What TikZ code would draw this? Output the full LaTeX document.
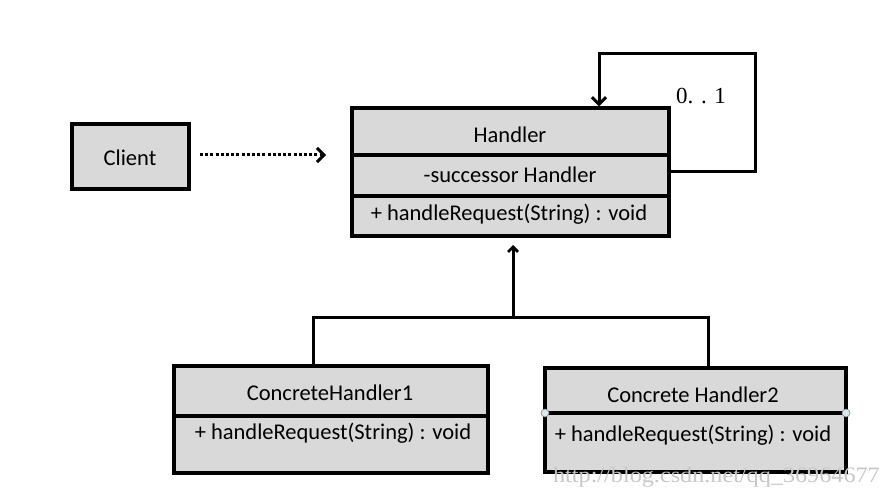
\documentclass[tikz,border=0pt]{standalone}
\usepackage{fontspec}
\setmainfont{Carlito}
\newfontfamily\serifnum{Liberation Serif}
\usetikzlibrary{arrows.meta}
\definecolor{boxgray}{HTML}{D9D9D9}
\definecolor{handle}{HTML}{D6E8F0}
\tikzset{
  umlbox/.style={draw=black, line width=3.4pt, fill=boxgray},
  divider/.style={draw=black, line width=3.4pt},
  lbl/.style={inner sep=0pt, font=\fontsize{22.5}{26}\selectfont},
  conn/.style={draw=black, line width=3pt},
  barb/.style={-{Straight Barb[length=7pt,width=14pt,line width=3pt]}},
}
\begin{document}
\begin{tikzpicture}[x=1pt,y=-1pt]
\useasboundingbox (0,0) rectangle (891,497);
% Client
\node[umlbox, minimum width=117pt, minimum height=65pt] (client) at (130.5,156.5) {};
\node[lbl] (clientt) at (130,158) {Client};
% Handler
\node[umlbox, minimum width=317pt, minimum height=128pt] (handler) at (510.5,172) {};
\coordinate (hd1l) at (352,155); \coordinate (hd1r) at (669,155);
\coordinate (hd2l) at (352,196); \coordinate (hd2r) at (669,196);
\draw[divider] (hd1l) -- (hd1r);
\draw[divider] (hd2l) -- (hd2r);
\node[lbl] (ht) at (510,135) {Handler};
\node[lbl] (ha) at (510,175) {-successor Handler};
\node[lbl] (hm) at (509,214) {+ handleRequest(String) : void};
% ConcreteHandler1
\node[umlbox, minimum width=314pt, minimum height=107pt] (ch1) at (331,419.5) {};
\coordinate (c1l) at (174,416); \coordinate (c1r) at (488,416);
\draw[divider] (c1l) -- (c1r);
\node[lbl] (c1t) at (330,393) {ConcreteHandler1};
\node[lbl] (c1m) at (333,433) {+ handleRequest(String) : void};
% ConcreteHandler2
\node[umlbox, minimum width=301pt, minimum height=104pt] (ch2) at (695.5,420) {};
\coordinate (c2l) at (545,413); \coordinate (c2r) at (846,413);
\draw[divider] (c2l) -- (c2r);
\node[lbl] (c2t) at (693,395) {Concrete Handler2};
\node[lbl] (c2m) at (693,435) {+ handleRequest(String) : void};
\draw[fill=handle, draw=gray, line width=0.6pt] (c2l) circle (4pt);
\draw[fill=handle, draw=gray, line width=0.6pt] (c2r) circle (4pt);
% Client -> Handler dotted dependency
\coordinate (dstart) at (200,155);
\coordinate (depend) at (326,155);
\draw[conn, barb, dash pattern=on 3pt off 2.2pt] (dstart) -- (depend);
% self association
\coordinate (sa) at (669,172);
\coordinate (sb) at (755,172);
\coordinate (sc) at (755,54);
\coordinate (sd) at (599,54);
\draw[conn, barb] (sa) -- (sb) -- (sc) -- (sd) -- (handler.north -| sd);
\node[font=\serifnum\fontsize{23}{26}\selectfont, inner sep=0pt] (mult) at (701,96) {0.\,\,.\,\,1};
% generalization
\coordinate (gj) at (513,317);
\coordinate (gtip) at (513,245);
\coordinate (g1) at (313,317);
\coordinate (g2) at (708,317);
\draw[conn, -{Straight Barb[length=5pt,width=10pt,line width=2.8pt]}] (gj) -- (gtip);
\draw[conn] (ch1.north -| g1) -- (g1) -- (g2) -- (ch2.north -| g2);
% watermark
\node[font=\serifnum\fontsize{22}{24}\selectfont, text=black!22, inner sep=0pt, anchor=east, xscale=1.1] (wm) at (880,477) {http://blog.csdn.net/qq\_36964677};
\end{tikzpicture}
\end{document}
